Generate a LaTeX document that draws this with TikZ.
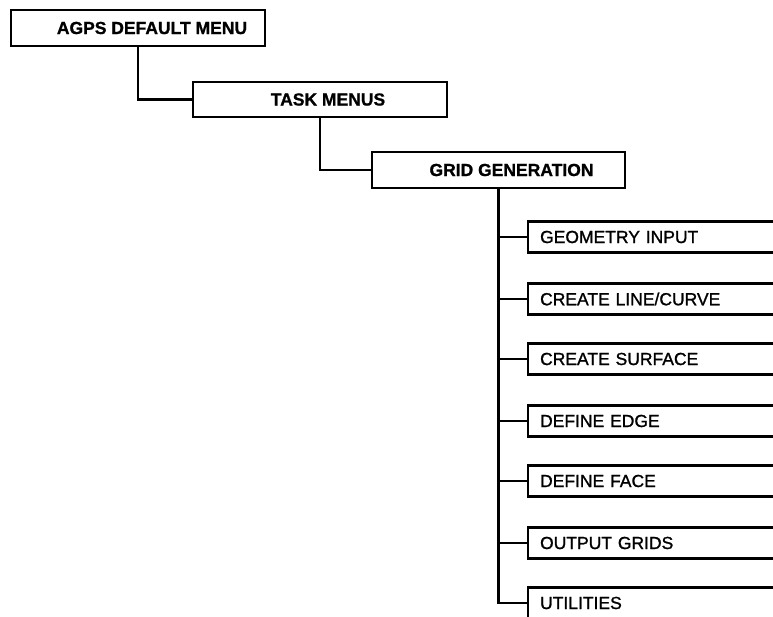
\documentclass[tikz,border=0pt]{standalone}
\usepackage{fontspec}
\setmainfont{Liberation Sans}
\newfontfamily\medfont[FakeBold=1.2]{Liberation Sans}
\newfontfamily\heavyfont[FakeBold=1]{Liberation Sans Bold}
\begin{document}
\begin{tikzpicture}[x=1pt,y=-1pt,line width=2.2pt,
  topbox/.style={draw,rectangle,minimum height=36pt,inner xsep=0pt,
    font=\fontsize{17.5}{20}\selectfont\heavyfont},
  subbox/.style={draw,rectangle,anchor=west,minimum height=31pt,
    text width=276pt,inner xsep=12pt,align=left,
    font=\fontsize{17.5}{20}\selectfont\medfont},
  link/.style={draw,line width=2.2pt}]
\useasboundingbox (0,0) rectangle (773,617);
\node[topbox,minimum width=254pt] (b1) at (138,28) {\hspace*{28pt}AGPS DEFAULT MENU};
\node[topbox,minimum width=254pt,minimum height=35pt] (b2) at (320,99.5) {\hspace*{16pt}TASK MENUS};
\node[topbox,minimum width=253pt] (b3) at (498.5,170) {\hspace*{26pt}GRID GENERATION};
\node[subbox] (s1) at (527,237) {GEOMETRY INPUT};
\node[subbox] (s2) at (527,299) {CREATE LINE/CURVE};
\node[subbox] (s3) at (527,359) {CREATE SURFACE};
\node[subbox] (s4) at (527,421) {DEFINE EDGE};
\node[subbox] (s5) at (527,481) {DEFINE FACE};
\node[subbox] (s6) at (527,543) {OUTPUT GRIDS};
\node[subbox] (s7) at (527,603) {UTILITIES};
\path[link] (b1.south) |- (b2.west);
\path[link] (b2.south) |- (b3.west);
\foreach \s in {s1,s2,s3,s4,s5,s6,s7}
  \path[link] (b3.south) |- (\s.west);
\end{tikzpicture}
\end{document}
